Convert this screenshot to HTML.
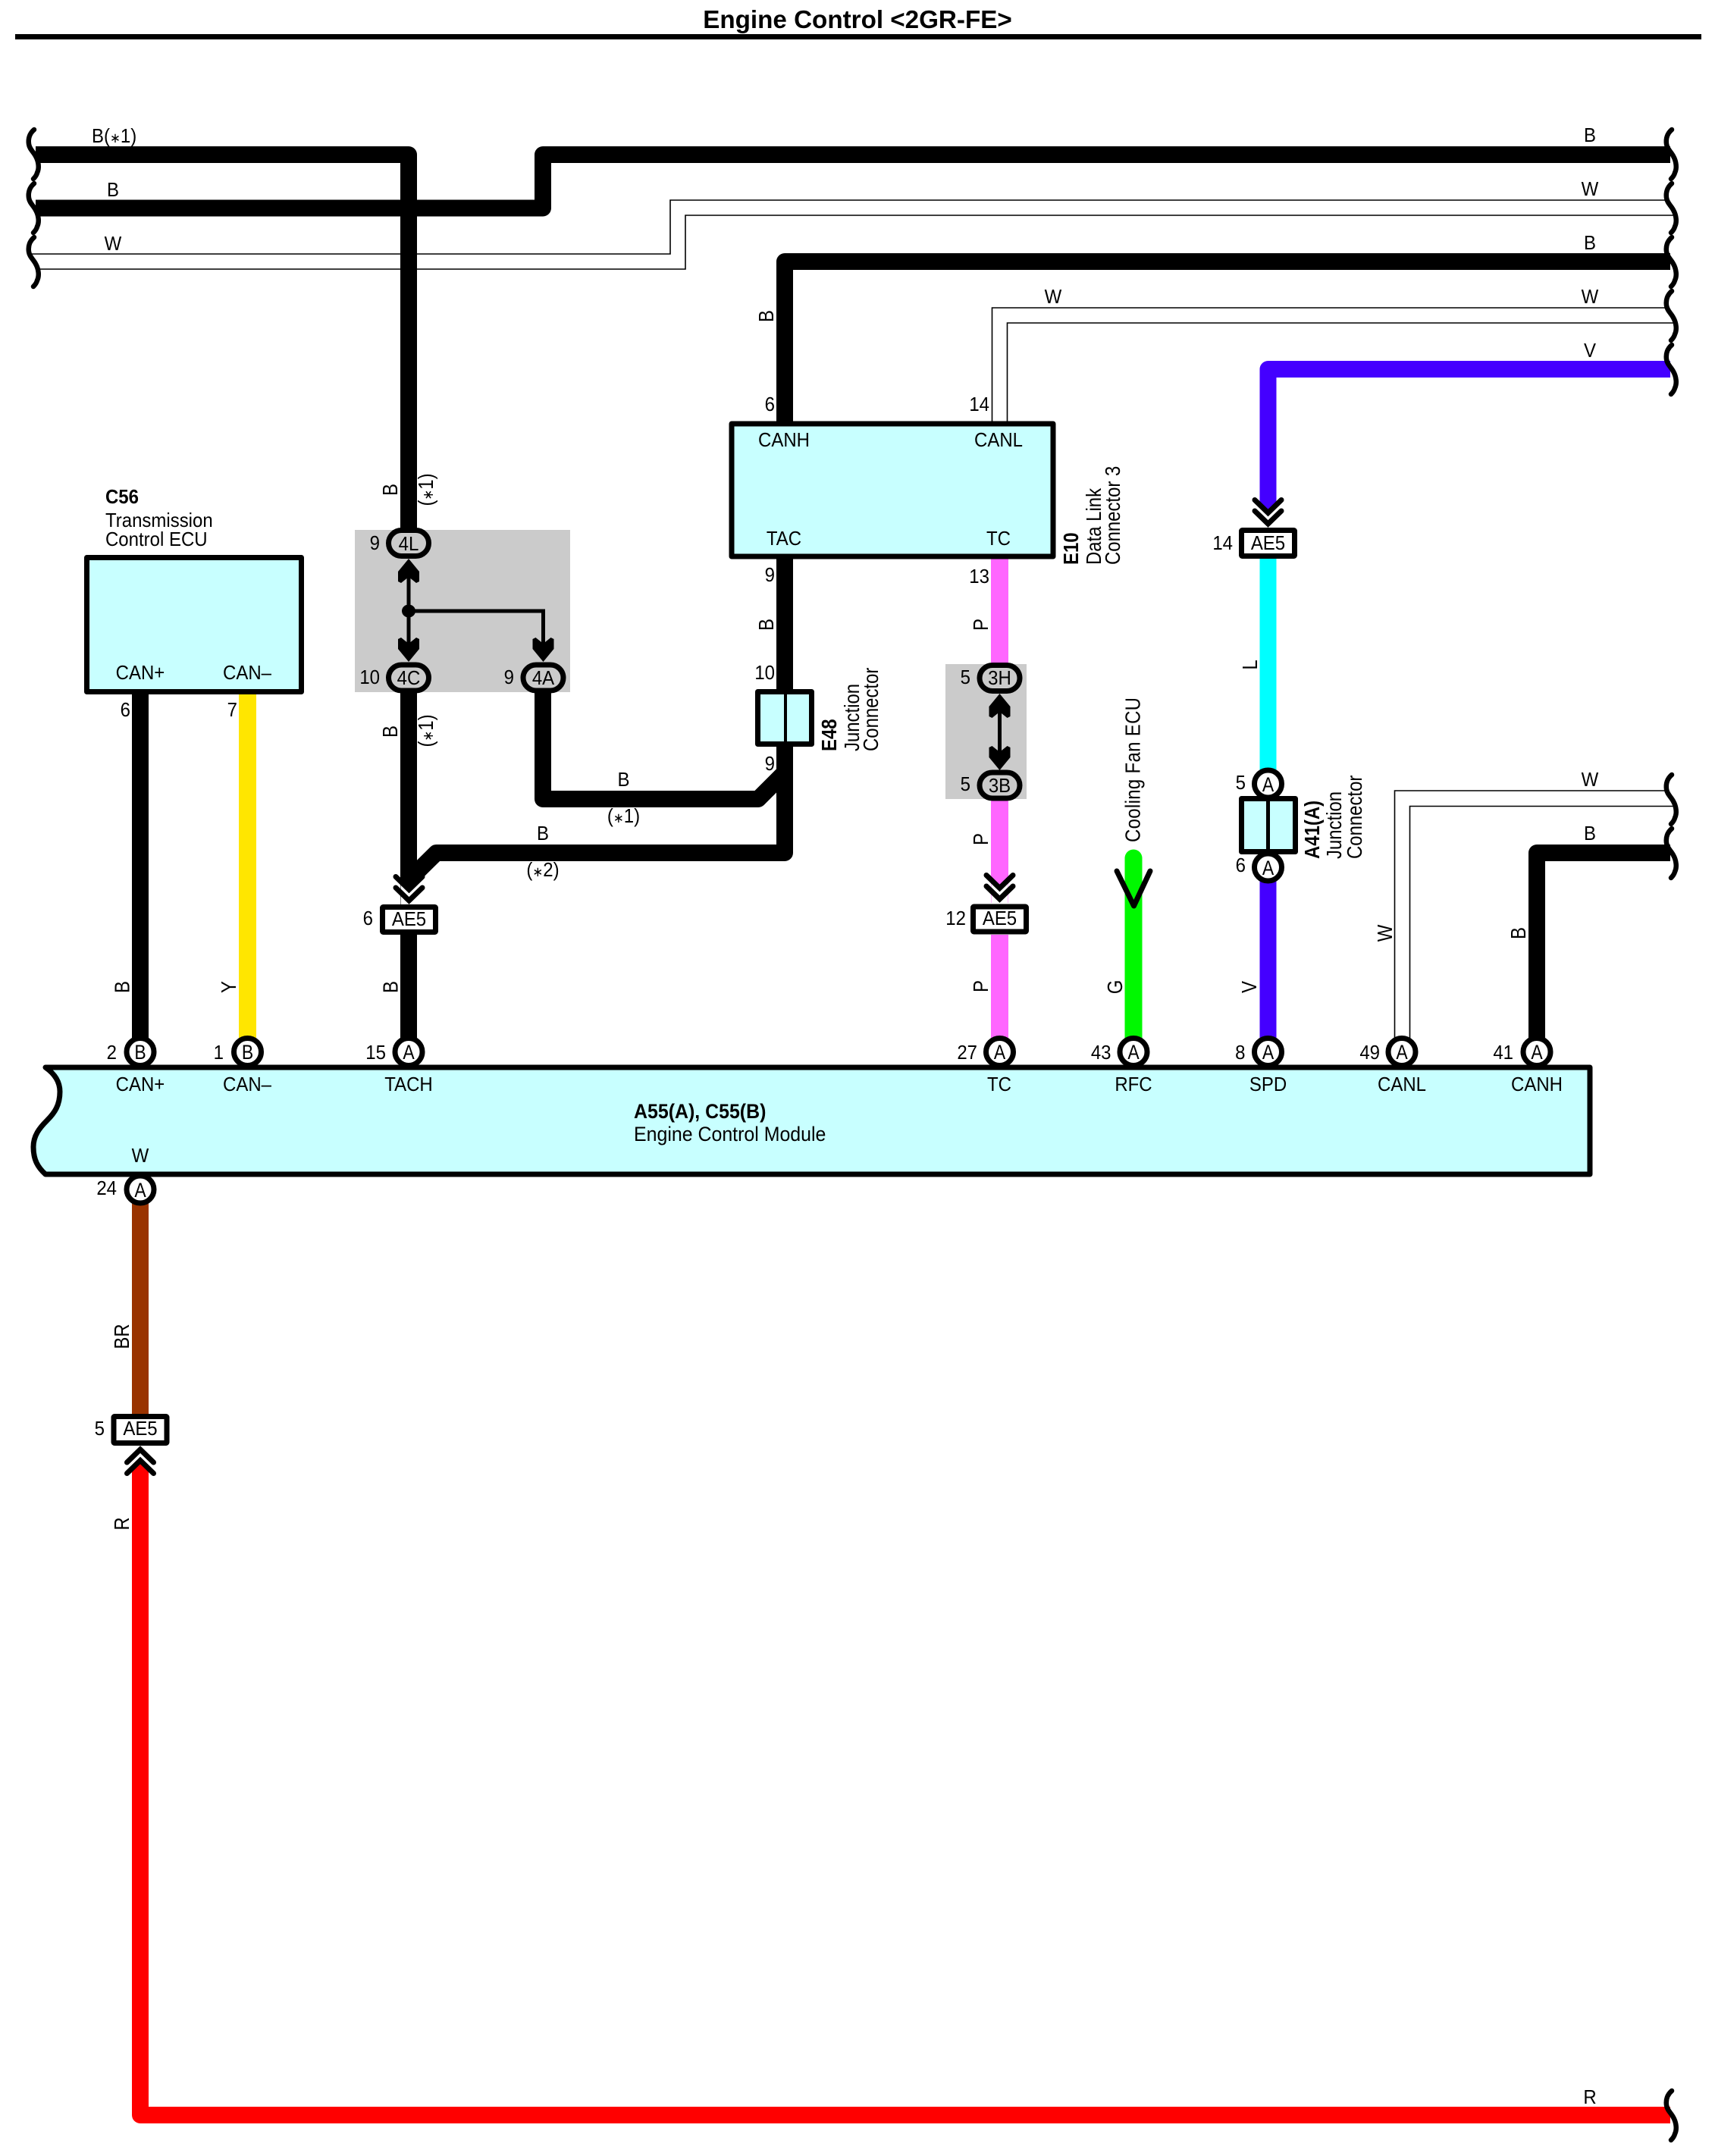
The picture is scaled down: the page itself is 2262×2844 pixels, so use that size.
<!DOCTYPE html>
<html><head><meta charset="utf-8"><title>Engine Control</title>
<style>
html,body{margin:0;padding:0;background:#fff}
svg{display:block}
text{font-family:"Liberation Sans",sans-serif;font-size:26px;fill:#000}
text:not(.r):not(.n){transform-box:fill-box;transform-origin:left center;transform:scaleX(.923)}
text.m:not(.r):not(.n){transform-origin:center center}
text.e:not(.r):not(.n){transform-origin:right center}
text.p{font-size:27px;transform:scaleX(.85)!important}
text.r{font-size:27.5px}
.b{font-weight:bold}
.m{text-anchor:middle}
.e{text-anchor:end}
.w{fill:none;stroke-width:22;stroke-linejoin:round}
.t{fill:none;stroke:#000;stroke-width:1.6}
.k{fill:none;stroke:#000;stroke-width:6.5;stroke-linecap:round}
.box{stroke:#000;stroke-width:7;stroke-linejoin:round}
</style></head><body>
<svg xmlns="http://www.w3.org/2000/svg" width="2262" height="2844" viewBox="0 0 2262 2844">
<defs>
<path id="br" class="k" d="M0 0C-6 5-8 12-7 19C-6 26-1 29 2 35C6 42 7 51 4 57C3 61 1 63-1 65"/>
<g id="ch"><polygon fill="#fff" points="-11,0 11,0 11,30 0,19.5 -11,30"/><polyline fill="none" stroke="#000" stroke-width="7" stroke-linecap="round" points="-17.5,22 0,5 17.5,22"/><polyline fill="none" stroke="#000" stroke-width="7" stroke-linecap="round" points="-17.5,36.5 0,19.5 17.5,36.5"/></g>
<polygon id="fa" points="0,0 14,17 14,30 10,32 0,24 -10,32 -14,30 -14,17"/>
</defs>
<rect width="2262" height="2844" fill="#fff"/>

<text class="b m n" x="1131" y="37" style="font-size:33.2px">Engine Control &lt;2GR-FE&gt;</text>
<rect x="20" y="45" width="2224" height="7"/>

<!-- thin white wires -->
<path class="t" d="M42 335H884V264H2200"/>
<path class="t" d="M50 355H904V284H2209"/>
<path class="t" d="M1308.5 556V406H2200"/>
<path class="t" d="M1328.5 556V426H2209"/>
<path class="t" d="M1839.5 1370V1043H2200"/>
<path class="t" d="M1859.5 1370V1063.5H2209"/>

<!-- gray areas -->
<rect x="468" y="699" width="284" height="214" fill="#cbcbcb"/>
<rect x="1247" y="876" width="107" height="178" fill="#cbcbcb"/>

<!-- thick wires -->
<path class="w" stroke="#000" d="M47 274.5H716V204H2203"/>
<path class="w" stroke="#000" d="M47 204H539V700"/>
<path class="w" stroke="#000" d="M1035 556V345H2203"/>
<path class="w" stroke="#000" d="M2203 1125H2027V1370"/>
<path class="w" stroke="#000" d="M539 910V1193"/>
<path class="w" stroke="#000" d="M539 1233V1370"/>
<path class="w" stroke="#000" d="M716 910V1054H1000L1035 1019"/>
<path class="w" stroke="#000" d="M539 1161L575.5 1125H1035V737"/>
<path class="w" stroke="#000" d="M185 916V1370"/>
<path class="w" stroke="#ffe600" d="M326.5 916V1370" style="stroke-width:23"/>
<path class="w" stroke="#4400ff" d="M2203 487H1672.5V696" />
<path class="w" stroke="#00ffff" d="M1672.5 737V1020"/>
<path class="w" stroke="#4400ff" d="M1672.5 1160V1370"/>
<path class="w" stroke="#ff66ff" d="M1318.5 737V880" style="stroke-width:23"/>
<path class="w" stroke="#ff66ff" d="M1318.5 1050V1191" style="stroke-width:23"/>
<path class="w" stroke="#ff66ff" d="M1318.5 1233V1370" style="stroke-width:23"/>
<path d="M1495 1132V1370" fill="none" stroke="#00f800" stroke-width="23" stroke-linecap="round"/>
<path class="w" stroke="#993300" d="M185 1585V1865"/>
<path class="w" stroke="#ff0000" d="M185 1907V2790H2203"/>

<!-- braces -->
<use href="#br" x="45" y="171"/><use href="#br" x="45" y="242"/><use href="#br" x="45" y="313"/>
<use href="#br" x="2205" y="171"/><use href="#br" x="2205" y="242"/><use href="#br" x="2205" y="313"/><use href="#br" x="2205" y="384"/><use href="#br" x="2205" y="455"/>
<use href="#br" x="2205" y="1022"/><use href="#br" x="2205" y="1093"/><use href="#br" x="2205" y="2758"/>

<!-- junction internals -->
<g fill="none" stroke="#000" stroke-width="5">
<path d="M539 750V860"/><path d="M539 806H716.5V860"/><path d="M1318.5 935V995"/>
</g>
<ellipse cx="539" cy="806" rx="9" ry="8.5"/>
<use href="#fa" transform="translate(539,737)"/>
<use href="#fa" transform="translate(539,873) scale(1,-1)"/>
<use href="#fa" transform="translate(716.5,873) scale(1,-1)"/>
<use href="#fa" transform="translate(1318.5,915)"/>
<use href="#fa" transform="translate(1318.5,1016) scale(1,-1)"/>

<!-- ovals -->
<g fill="#cbcbcb" stroke="#000" stroke-width="7">
<rect x="512.5" y="699.5" width="53" height="34" rx="17"/>
<rect x="512.5" y="877" width="53" height="34" rx="17"/>
<rect x="690" y="877" width="53" height="34" rx="17"/>
<rect x="1292" y="877.5" width="53" height="34" rx="17"/>
<rect x="1292" y="1019" width="53" height="34" rx="17"/>
</g>

<!-- chevrons -->
<use href="#ch" transform="translate(539.5,1193) scale(1,-1)"/>
<use href="#ch" transform="translate(1318.5,1191) scale(1,-1)"/>
<use href="#ch" transform="translate(1672.5,696) scale(1,-1)"/>
<use href="#ch" transform="translate(185,1907)"/>
<polyline fill="none" stroke="#000" stroke-width="7" stroke-linecap="round" stroke-linejoin="round" points="1473,1149 1495.5,1195 1517,1149"/>

<!-- AE5 boxes -->
<g fill="#fff" class="box">
<rect x="504.5" y="1196.5" width="70" height="33" rx="1"/>
<rect x="1283.5" y="1196" width="70" height="33" rx="1"/>
<rect x="1637.5" y="699.5" width="70" height="34" rx="1"/>
<rect x="150" y="1868.5" width="70" height="35" rx="1"/>
</g>

<!-- ECM circles -->
<g fill="#fff" stroke="#000" stroke-width="7">
<circle cx="185" cy="1387.5" r="18"/><circle cx="326.5" cy="1387.5" r="18"/><circle cx="539" cy="1387.5" r="18"/>
<circle cx="1318.5" cy="1387.5" r="18"/><circle cx="1495" cy="1387.5" r="18"/><circle cx="1672.5" cy="1387.5" r="18"/>
<circle cx="1849" cy="1387.5" r="18"/><circle cx="2027" cy="1387.5" r="18"/>
<circle cx="185" cy="1569" r="18"/>
<circle cx="1672.5" cy="1034" r="18"/><circle cx="1672.5" cy="1144" r="18"/>
</g>

<!-- component boxes -->
<path fill="#c8ffff" stroke="#000" stroke-width="7" stroke-linejoin="round" d="M60 1408H2097V1549H60C50 1540 44 1530 44 1513C44 1498 52 1488 62 1478C72 1468 79 1458 79 1440C79 1425 70 1415 60 1408Z"/>
<rect class="box" fill="#c8ffff" x="114.5" y="735.5" width="283" height="177"/>
<rect class="box" fill="#c8ffff" x="965" y="559" width="424" height="175"/>
<rect class="box" fill="#c8ffff" x="999.5" y="912.5" width="71" height="69"/>
<rect x="1034" y="912" width="4" height="70"/>
<rect class="box" fill="#c8ffff" x="1637.5" y="1053.5" width="71" height="70"/>
<rect x="1670" y="1053" width="5" height="71"/>

<!-- top left labels -->
<text x="121" y="188">B(<tspan style="font-size:18px">∗</tspan>1)</text>
<text class="m" x="149" y="259">B</text>
<text class="m" x="149" y="330">W</text>

<!-- right labels -->
<text class="m" x="2097" y="187">B</text>
<text class="m" x="2097" y="258">W</text>
<text class="m" x="2097" y="329">B</text>
<text class="m" x="2097" y="400">W</text>
<text class="m" x="2097" y="471">V</text>
<text class="m" x="2097" y="1037">W</text>
<text class="m" x="2097" y="1108">B</text>
<text class="m" x="2097" y="2775">R</text>
<text class="m" x="1389" y="400">W</text>

<!-- C56 -->
<text class="b" x="139" y="664">C56</text>
<text x="139" y="695">Transmission</text>
<text x="139" y="720">Control ECU</text>
<text class="m" x="185" y="896">CAN+</text>
<text class="m" x="326" y="896">CAN–</text>
<text class="e" x="172" y="945">6</text>
<text class="e" x="313" y="945">7</text>

<!-- E10 -->
<text class="m" x="1034" y="589">CANH</text>
<text class="m" x="1317" y="589">CANL</text>
<text class="m" x="1034" y="719">TAC</text>
<text class="m" x="1317" y="719">TC</text>
<text class="e" x="1022" y="542">6</text>
<text class="e" x="1305" y="542">14</text>
<text class="e" x="1022" y="767">9</text>
<text class="e" x="1305" y="769">13</text>
<text class="e" x="1022" y="896">10</text>
<text class="e" x="1022" y="1016">9</text>
<text class="b r" transform="translate(1422,745) rotate(-90) scale(.87,1)">E10</text>
<text class="r" transform="translate(1452,745) rotate(-90) scale(.87,1)">Data Link</text>
<text class="r" transform="translate(1477,745) rotate(-90) scale(.87,1)">Connector 3</text>

<!-- E48 -->
<text class="b r" transform="translate(1103,991) rotate(-90) scale(.87,1)">E48</text>
<text class="r" transform="translate(1133,991) rotate(-90) scale(.87,1)">Junction</text>
<text class="r" transform="translate(1158,991) rotate(-90) scale(.87,1)">Connector</text>

<!-- A41 -->
<text class="b r" transform="translate(1740,1133) rotate(-90) scale(.87,1)">A41(A)</text>
<text class="r" transform="translate(1769,1133) rotate(-90) scale(.87,1)">Junction</text>
<text class="r" transform="translate(1796,1133) rotate(-90) scale(.87,1)">Connector</text>
<text class="e" x="1643" y="1041">5</text>
<text class="e" x="1643" y="1150">6</text>
<text class="m p" x="1672.5" y="1044">A</text>
<text class="m p" x="1672.5" y="1154">A</text>

<text class="r" transform="translate(1503.5,1111) rotate(-90) scale(.87,1)" textLength="219.5" lengthAdjust="spacing">Cooling Fan ECU</text>

<!-- oval labels -->
<text class="m" x="539" y="726">4L</text>
<text class="m" x="539" y="903">4C</text>
<text class="m" x="716.5" y="903">4A</text>
<text class="m" x="1318.5" y="903">3H</text>
<text class="m" x="1318.5" y="1045">3B</text>
<text class="e" x="501" y="725">9</text>
<text class="e" x="501" y="902">10</text>
<text class="e" x="678" y="902">9</text>
<text class="e" x="1280" y="902">5</text>
<text class="e" x="1280" y="1043">5</text>

<!-- AE5 labels -->
<text class="m" x="539.5" y="1221">AE5</text>
<text class="m" x="1318.5" y="1220">AE5</text>
<text class="m" x="1672.5" y="725">AE5</text>
<text class="m" x="185" y="1893">AE5</text>
<text class="e" x="492" y="1220">6</text>
<text class="e" x="1274" y="1220">12</text>
<text class="e" x="1626" y="725">14</text>
<text class="e" x="138" y="1893">5</text>

<!-- ECM pins -->
<text class="m p" x="185" y="1397">B</text>
<text class="m p" x="326.5" y="1397">B</text>
<text class="m p" x="539" y="1397">A</text>
<text class="m p" x="1318.5" y="1397">A</text>
<text class="m p" x="1495" y="1397">A</text>
<text class="m p" x="1672.5" y="1397">A</text>
<text class="m p" x="1849" y="1397">A</text>
<text class="m p" x="2027" y="1397">A</text>
<text class="m p" x="185" y="1579">A</text>
<text class="e" x="154" y="1397">2</text>
<text class="e" x="295" y="1397">1</text>
<text class="e" x="509" y="1397">15</text>
<text class="e" x="1289" y="1397">27</text>
<text class="e" x="1465.5" y="1397">43</text>
<text class="e" x="1642.5" y="1397">8</text>
<text class="e" x="1820" y="1397">49</text>
<text class="e" x="1996" y="1397">41</text>
<text class="e" x="154" y="1576">24</text>
<text class="m" x="185" y="1439">CAN+</text>
<text class="m" x="326" y="1439">CAN–</text>
<text class="m" x="539" y="1439">TACH</text>
<text class="m" x="1318" y="1439">TC</text>
<text class="m" x="1495" y="1439">RFC</text>
<text class="m" x="1672.5" y="1439">SPD</text>
<text class="m" x="1849" y="1439">CANL</text>
<text class="m" x="2027" y="1439">CANH</text>
<text class="m" x="185" y="1533">W</text>
<text class="b" x="836" y="1475" style="font-size:27px">A55(A), C55(B)</text>
<text x="836" y="1505" style="font-size:27px">Engine Control Module</text>

<!-- horizontal wire labels -->
<text class="m" x="822.5" y="1037">B</text>
<text class="m" x="822.5" y="1085">(<tspan style="font-size:18px">∗</tspan>1)</text>
<text class="m" x="716" y="1108">B</text>
<text class="m" x="716" y="1156">(<tspan style="font-size:18px">∗</tspan>2)</text>

<!-- rotated wire labels -->
<text class="m r" transform="translate(524,646) rotate(-90) scale(.87,1)">B</text>
<text class="m r" transform="translate(571,646) rotate(-90) scale(.87,1)">(<tspan style="font-size:19px">∗</tspan>1)</text>
<text class="m r" transform="translate(524,965) rotate(-90) scale(.87,1)">B</text>
<text class="m r" transform="translate(571,964) rotate(-90) scale(.87,1)">(<tspan style="font-size:19px">∗</tspan>1)</text>
<text class="m r" transform="translate(1020,417) rotate(-90) scale(.87,1)">B</text>
<text class="m r" transform="translate(1020,824) rotate(-90) scale(.87,1)">B</text>
<text class="m r" transform="translate(1303,824) rotate(-90) scale(.87,1)">P</text>
<text class="m r" transform="translate(1303,1107) rotate(-90) scale(.87,1)">P</text>
<text class="m r" transform="translate(1303,1301) rotate(-90) scale(.87,1)">P</text>
<text class="m r" transform="translate(1658,877) rotate(-90) scale(.87,1)">L</text>
<text class="m r" transform="translate(170.5,1302) rotate(-90) scale(.87,1)">B</text>
<text class="m r" transform="translate(311,1302) rotate(-90) scale(.87,1)">Y</text>
<text class="m r" transform="translate(524.5,1302) rotate(-90) scale(.87,1)">B</text>
<text class="m r" transform="translate(1480,1302) rotate(-90) scale(.87,1)">G</text>
<text class="m r" transform="translate(1657,1302) rotate(-90) scale(.87,1)">V</text>
<text class="m r" transform="translate(1836,1231) rotate(-90) scale(.87,1)">W</text>
<text class="m r" transform="translate(2012,1231) rotate(-90) scale(.87,1)">B</text>
<text class="m r" transform="translate(170,1763) rotate(-90) scale(.87,1)">BR</text>
<text class="m r" transform="translate(170,2010) rotate(-90) scale(.87,1)">R</text>
</svg>
</body></html>
